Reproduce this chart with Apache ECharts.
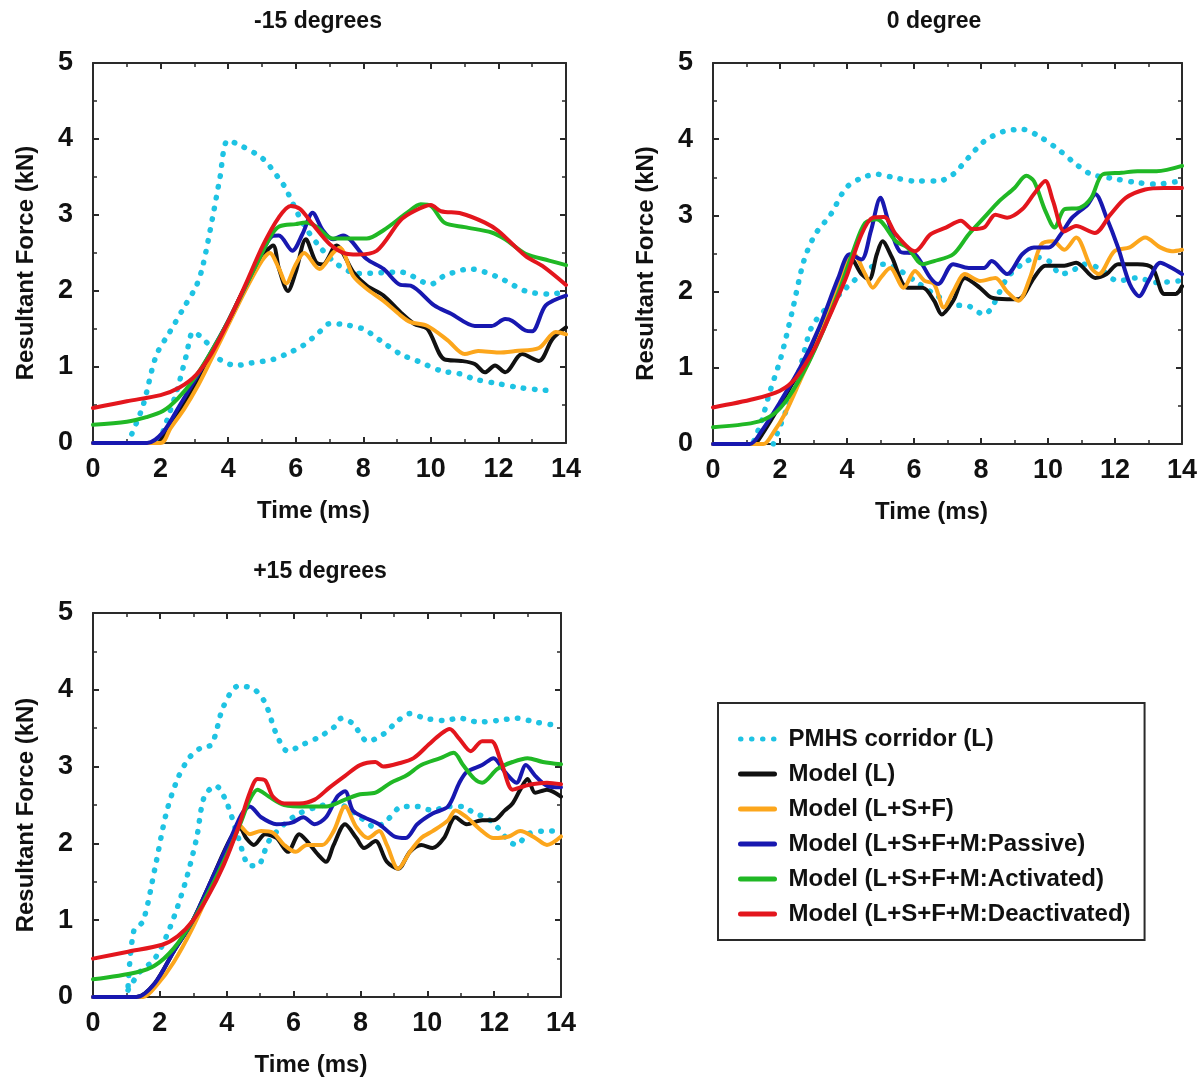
<!DOCTYPE html>
<html><head><meta charset="utf-8">
<script src="https://cdn.jsdelivr.net/npm/echarts@6/dist/echarts.min.js"></script>
<style>html,body{margin:0;padding:0;background:#fff}#c{width:1202px;height:1083px}</style>
</head><body><div id="c"></div>
<script>
// ---------- data (time in ms, force in kN) ----------
const panelTitles = ['-15 degrees', '0 degree', '+15 degrees'];
const seriesNames = ['PMHS corridor (L)', 'Model (L)', 'Model (L+S+F)', 'Model (L+S+F+M:Passive)', 'Model (L+S+F+M:Activated)', 'Model (L+S+F+M:Deactivated)'];
const xTicks = [0, 2, 4, 6, 8, 10, 12, 14];
const yTicks = [0, 1, 2, 3, 4, 5];

// -15 degrees
const m15_upper = [[1.15,0.12],[1.48,0.49],[1.87,1.15],[2.27,1.46],[2.66,1.76],[3.06,2.07],[3.25,2.33],[3.55,2.99],[3.75,3.47],[3.99,3.98],[4.39,3.91],[5.03,3.74],[5.52,3.47],[5.69,3.36],[6.2,2.9],[6.66,2.61],[7.2,2.36],[7.85,2.23],[9.1,2.25],[10.0,2.09],[10.4,2.2],[11.16,2.29],[12.0,2.18],[12.8,2.0],[13.5,1.96],[13.9,1.98]];
const m15_lower = [[1.97,0.02],[2.47,0.67],[2.76,1.15],[2.96,1.46],[3.16,1.41],[3.45,1.28],[3.75,1.1],[4.24,1.02],[4.64,1.05],[5.33,1.1],[5.72,1.17],[6.21,1.28],[6.7,1.46],[7.0,1.57],[7.4,1.56],[8.0,1.5],[8.5,1.35],[9.1,1.17],[9.6,1.08],[10.3,0.95],[10.86,0.91],[11.3,0.84],[12.0,0.78],[12.6,0.73],[13.2,0.7],[13.6,0.69]];
const m15_black = [[0,0],[1.9,0],[2.1,0.1],[2.56,0.42],[3.06,0.8],[3.5,1.17],[4,1.6],[4.5,2.05],[5.0,2.45],[5.33,2.6],[5.5,2.3],[5.77,2.0],[6.0,2.25],[6.3,2.68],[6.6,2.38],[6.8,2.35],[7.2,2.6],[7.7,2.25],[8.1,2.07],[8.6,1.94],[9.1,1.72],[9.5,1.57],[9.9,1.5],[10.4,1.1],[10.9,1.08],[11.3,1.04],[11.6,0.93],[11.9,1.02],[12.2,0.93],[12.7,1.17],[13.2,1.08],[13.6,1.37],[14,1.52]];
const m15_orange = [[0,0],[2.0,0],[2.3,0.2],[2.7,0.45],[3.1,0.75],[3.5,1.1],[4,1.55],[4.5,2.0],[5.0,2.4],[5.23,2.5],[5.5,2.3],[5.72,2.1],[6.0,2.35],[6.25,2.5],[6.7,2.29],[7.1,2.5],[7.3,2.57],[7.7,2.2],[8.1,2.03],[8.6,1.87],[9.1,1.68],[9.4,1.59],[9.9,1.54],[10.5,1.35],[11.0,1.17],[11.4,1.21],[12,1.19],[12.5,1.21],[13.2,1.25],[13.7,1.46],[14,1.43]];
const m15_blue = [[0,0],[1.6,0],[2.07,0.14],[2.56,0.49],[3.06,0.86],[3.5,1.2],[4.0,1.6],[4.5,2.05],[5.0,2.5],[5.3,2.72],[5.5,2.73],[5.9,2.53],[6.2,2.75],[6.5,3.03],[6.8,2.8],[7.1,2.68],[7.4,2.73],[8.1,2.42],[8.6,2.29],[9.1,2.08],[9.4,2.07],[10.1,1.81],[10.6,1.7],[11.3,1.54],[11.8,1.54],[12.2,1.63],[12.4,1.61],[12.8,1.48],[13.0,1.47],[13.4,1.81],[14,1.94]];
const m15_green = [[0,0.24],[1,0.28],[1.58,0.34],[2.07,0.42],[2.5,0.58],[3.0,0.85],[3.5,1.2],[4,1.6],[4.5,2.05],[5.0,2.5],[5.3,2.75],[5.52,2.85],[6.0,2.88],[6.3,2.9],[6.6,2.85],[7.1,2.69],[8.1,2.69],[8.6,2.8],[9.3,3.03],[9.7,3.14],[10.0,3.12],[10.4,2.9],[11,2.84],[11.8,2.77],[12.2,2.68],[12.8,2.49],[13.5,2.4],[14,2.34]];
const m15_red = [[0,0.46],[1,0.55],[2,0.63],[2.56,0.73],[3.06,0.9],[3.5,1.17],[4.04,1.63],[4.5,2.07],[5.03,2.6],[5.5,2.97],[5.85,3.12],[6.13,3.08],[6.5,2.88],[7.0,2.62],[7.5,2.49],[7.8,2.48],[8.4,2.53],[9.1,2.93],[9.5,3.05],[10.0,3.13],[10.3,3.05],[10.9,3.02],[11.6,2.9],[12.0,2.79],[12.8,2.46],[13.3,2.33],[14,2.08]];

// 0 degree
const z0_upper = [[1.22,0.04],[1.45,0.3],[1.68,0.66],[2.03,1.14],[2.37,1.75],[2.71,2.4],[3.05,2.75],[3.51,3.01],[3.97,3.36],[4.43,3.49],[4.89,3.54],[5.46,3.49],[6.03,3.45],[6.72,3.45],[7.17,3.54],[7.63,3.76],[8.09,3.97],[8.66,4.1],[9.23,4.13],[9.8,4.02],[10.38,3.84],[10.84,3.67],[11.29,3.54],[11.86,3.49],[12.67,3.43],[13.24,3.41],[13.92,3.45]];
const z0_lower = [[1.8,0.0],[1.91,0.13],[2.25,0.52],[2.6,1.0],[2.94,1.53],[3.4,1.79],[3.86,2.0],[4.2,2.14],[4.66,2.31],[5.11,2.36],[5.46,2.31],[6.03,2.14],[6.6,1.97],[7.17,1.83],[7.63,1.81],[8.09,1.7],[8.32,1.79],[8.78,2.18],[9.23,2.36],[9.69,2.45],[10.03,2.4],[10.38,2.23],[10.72,2.27],[11.06,2.36],[11.52,2.31],[12.09,2.14],[12.67,2.18],[13.24,2.12],[13.92,2.14]];
const z0_black = [[0,0],[1.2,0],[1.5,0.15],[2.05,0.55],[2.6,0.98],[3.2,1.5],[3.75,2.15],[4.1,2.45],[4.43,2.23],[4.66,2.16],[4.89,2.49],[5.06,2.66],[5.34,2.45],[5.8,2.05],[6.26,2.05],[6.6,1.88],[6.83,1.7],[7.17,1.88],[7.52,2.18],[7.97,2.05],[8.32,1.92],[8.78,1.9],[9.12,1.9],[9.58,2.18],[9.92,2.34],[10.49,2.34],[10.84,2.38],[11.41,2.18],[11.75,2.23],[12.09,2.36],[12.67,2.36],[13.12,2.31],[13.47,1.97],[13.81,1.97],[14,2.07]];
const z0_orange = [[0,0],[1.5,0],[1.8,0.15],[2.14,0.39],[2.6,0.83],[3.05,1.27],[3.51,1.79],[3.97,2.36],[4.2,2.49],[4.54,2.23],[4.77,2.05],[5.0,2.18],[5.29,2.31],[5.69,2.05],[6.03,2.27],[6.32,2.14],[6.6,2.1],[6.89,1.79],[7.17,2.0],[7.52,2.23],[7.97,2.14],[8.43,2.18],[8.78,2.0],[9.12,1.88],[9.46,2.18],[9.8,2.62],[10.15,2.66],[10.49,2.55],[10.84,2.71],[11.29,2.31],[11.52,2.23],[11.98,2.53],[12.44,2.58],[12.9,2.71],[13.35,2.58],[13.7,2.53],[14,2.55]];
const z0_blue = [[0,0],[1.1,0],[1.45,0.17],[2.03,0.57],[2.6,1.0],[3.17,1.53],[3.74,2.18],[4.08,2.49],[4.43,2.42],[4.71,2.79],[5.0,3.23],[5.23,2.93],[5.57,2.53],[6.03,2.49],[6.49,2.18],[6.72,2.1],[7.17,2.36],[7.63,2.31],[8.09,2.31],[8.32,2.4],[8.78,2.23],[9.23,2.49],[9.58,2.58],[10.03,2.58],[10.38,2.75],[10.72,2.97],[11.18,3.14],[11.41,3.28],[11.75,2.97],[12.09,2.58],[12.44,2.1],[12.72,1.94],[13.0,2.14],[13.35,2.38],[13.7,2.31],[14,2.23]];
const z0_green = [[0,0.22],[1.22,0.28],[1.8,0.39],[2.25,0.61],[2.83,1.05],[3.3,1.5],[3.8,2.05],[4.2,2.55],[4.54,2.9],[4.89,2.95],[5.46,2.66],[5.8,2.58],[6.26,2.36],[6.6,2.4],[7.17,2.49],[7.63,2.75],[8.09,2.97],[8.55,3.19],[9.0,3.36],[9.35,3.52],[9.58,3.45],[9.92,3.06],[10.2,2.84],[10.49,3.08],[10.95,3.1],[11.29,3.23],[11.64,3.54],[12.2,3.56],[12.67,3.58],[13.24,3.58],[14,3.65]];
const z0_red = [[0,0.48],[1.22,0.59],[2.0,0.7],[2.48,0.87],[3.05,1.27],[3.5,1.7],[3.97,2.18],[4.43,2.75],[4.77,2.97],[5.11,2.98],[5.46,2.75],[6.03,2.53],[6.49,2.75],[6.95,2.84],[7.4,2.93],[7.75,2.82],[8.09,2.84],[8.43,3.01],[8.78,2.97],[9.23,3.08],[9.58,3.28],[9.92,3.45],[10.15,3.19],[10.49,2.79],[10.84,2.86],[11.4,2.77],[11.86,3.01],[12.32,3.23],[12.9,3.34],[13.47,3.36],[14,3.36]];

// +15 degrees
const p15_upper = [[1.05,0.14],[1.22,0.86],[1.5,0.99],[1.85,1.67],[2.19,2.39],[2.53,2.84],[2.87,3.11],[3.21,3.24],[3.55,3.29],[3.9,3.78],[4.35,4.05],[4.81,4.01],[5.15,3.83],[5.49,3.42],[5.83,3.2],[6.29,3.29],[6.74,3.38],[7.2,3.51],[7.43,3.63],[7.77,3.56],[8.22,3.33],[8.68,3.42],[9.13,3.6],[9.48,3.69],[9.93,3.63],[10.5,3.6],[10.96,3.63],[11.53,3.58],[12.1,3.6],[12.67,3.63],[13.23,3.58],[13.8,3.54]];
const p15_lower = [[1.05,0.09],[1.39,0.32],[1.85,0.5],[2.3,0.9],[2.76,1.49],[3.1,2.07],[3.33,2.61],[3.67,2.75],[4.01,2.52],[4.35,2.07],[4.69,1.71],[4.92,1.71],[5.26,2.03],[5.72,2.25],[6.17,2.39],[6.74,2.48],[7.2,2.52],[7.54,2.48],[7.99,2.34],[8.45,2.21],[8.79,2.3],[9.25,2.48],[9.7,2.48],[10.16,2.43],[10.62,2.48],[11.07,2.48],[11.41,2.39],[11.75,2.34],[12.1,2.21],[12.44,2.03],[12.67,1.98],[13.0,2.12],[13.46,2.16],[13.8,2.16]];
const p15_black = [[0,0],[1.3,0],[1.85,0.18],[2.41,0.59],[2.98,0.99],[3.55,1.53],[4.12,2.07],[4.4,2.2],[4.58,2.07],[4.81,1.98],[5.15,2.12],[5.49,2.07],[5.83,1.89],[6.17,2.12],[6.4,2.03],[6.74,1.85],[6.97,1.76],[7.2,1.98],[7.54,2.25],[7.88,2.07],[8.11,1.94],[8.45,2.03],[8.79,1.76],[9.13,1.67],[9.48,1.89],[9.82,1.98],[10.16,1.94],[10.5,2.07],[10.84,2.34],[11.18,2.25],[11.64,2.3],[11.98,2.3],[12.32,2.43],[12.55,2.52],[12.78,2.7],[13.0,2.84],[13.23,2.66],[13.58,2.7],[14,2.61]];
const p15_orange = [[0,0],[1.5,0],[1.9,0.15],[2.41,0.45],[2.98,0.9],[3.55,1.44],[4.12,1.98],[4.35,2.25],[4.69,2.12],[5.03,2.16],[5.38,2.14],[5.72,1.98],[6.06,1.89],[6.4,1.98],[6.86,1.98],[7.2,2.16],[7.54,2.48],[7.88,2.21],[8.22,2.07],[8.56,2.16],[8.79,1.98],[9.13,1.67],[9.48,1.89],[9.82,2.07],[10.16,2.16],[10.62,2.3],[10.84,2.43],[11.18,2.34],[11.64,2.16],[11.98,2.07],[12.44,2.09],[12.78,2.16],[13.23,2.07],[13.58,1.98],[14,2.09]];
const p15_blue = [[0,0],[1.3,0],[1.85,0.18],[2.41,0.59],[2.98,0.99],[3.55,1.53],[4.12,2.07],[4.46,2.39],[4.69,2.48],[5.03,2.34],[5.49,2.25],[5.95,2.27],[6.29,2.34],[6.63,2.25],[6.97,2.34],[7.31,2.61],[7.54,2.68],[7.77,2.43],[8.11,2.34],[8.56,2.25],[9.02,2.09],[9.36,2.07],[9.7,2.25],[10.16,2.39],[10.62,2.48],[10.96,2.79],[11.18,2.93],[11.64,3.02],[11.98,3.11],[12.32,2.93],[12.67,2.79],[12.95,3.02],[13.23,2.88],[13.58,2.75],[14,2.73]];
const p15_green = [[0,0.23],[1.28,0.32],[1.85,0.41],[2.41,0.63],[2.98,0.99],[3.5,1.4],[4.0,1.85],[4.4,2.25],[4.69,2.57],[4.92,2.7],[5.26,2.61],[5.72,2.5],[6.4,2.48],[6.97,2.48],[7.54,2.57],[7.99,2.64],[8.45,2.66],[8.91,2.79],[9.36,2.88],[9.82,3.02],[10.39,3.11],[10.79,3.18],[11.07,3.02],[11.41,2.84],[11.64,2.79],[12.1,2.97],[12.55,3.06],[13.0,3.11],[13.46,3.06],[14,3.03]];
const p15_red = [[0,0.5],[1.05,0.59],[2.07,0.68],[2.53,0.79],[2.98,0.99],[3.44,1.31],[3.9,1.71],[4.35,2.21],[4.69,2.66],[4.92,2.84],[5.15,2.82],[5.38,2.61],[5.72,2.52],[6.17,2.52],[6.63,2.57],[7.08,2.73],[7.54,2.88],[7.99,3.02],[8.45,3.06],[8.68,3.0],[9.13,3.04],[9.59,3.11],[10.05,3.29],[10.39,3.42],[10.67,3.49],[10.96,3.36],[11.3,3.2],[11.64,3.33],[11.92,3.33],[12.21,3.06],[12.55,2.7],[12.78,2.73],[13.12,2.77],[13.58,2.79],[14,2.77]];

// ---------- styling ----------
const COLORS = ['#1ec3e3', '#111111', '#fca61c', '#1818b0', '#20b825', '#e3161d'];
const TXT = '#111';
const FONT = "'Liberation Sans',Arial,sans-serif";

const panels = [
  { title: panelTitles[0], titleX: 318, titleY: 10, grid: { left: 93, top: 63, width: 473, height: 380 },
    data: [m15_upper, m15_lower, m15_black, m15_orange, m15_blue, m15_green, m15_red] },
  { title: panelTitles[1], titleX: 934, titleY: 10, grid: { left: 713, top: 63, width: 469, height: 381 },
    data: [z0_upper, z0_lower, z0_black, z0_orange, z0_blue, z0_green, z0_red] },
  { title: panelTitles[2], titleX: 320, titleY: 560, grid: { left: 93, top: 613, width: 468, height: 384 },
    data: [p15_upper, p15_lower, p15_black, p15_orange, p15_blue, p15_green, p15_red] }
];

const axisLine = { show: true, onZero: false, lineStyle: { color: '#2a2a2a', width: 2 } };
const axisTick = { show: true, inside: true, length: 6, lineStyle: { color: '#2a2a2a', width: 2 } };
const minorTick = { show: true, splitNumber: 2, length: 4, lineStyle: { color: '#2a2a2a', width: 1.5 } };
const tickLabelStyle = { fontFamily: FONT, fontWeight: 'bold', fontSize: 27, color: TXT };

const option = { animation: false, backgroundColor: '#fff', title: [], grid: [], xAxis: [], yAxis: [], series: [] };

panels.forEach((p, i) => {
  option.title.push({ text: p.title, left: p.titleX, top: p.titleY, textAlign: 'center', padding: 0,
    textStyle: { fontFamily: FONT, fontWeight: 'bold', fontSize: 23, color: TXT } });
  option.grid.push(Object.assign({ containLabel: false }, p.grid));
  const xBase = { type: 'value', gridIndex: i, min: xTicks[0], max: xTicks[xTicks.length - 1], interval: 2,
    axisLine, axisTick, minorTick, splitLine: { show: false }, minorSplitLine: { show: false } };
  const yBase = { type: 'value', gridIndex: i, min: yTicks[0], max: yTicks[yTicks.length - 1], interval: 1,
    axisLine, axisTick, minorTick, splitLine: { show: false }, minorSplitLine: { show: false } };
  option.xAxis.push(Object.assign({}, xBase, { position: 'bottom',
    name: 'Time (ms)', nameLocation: 'middle', nameGap: 56,
    nameTextStyle: { fontFamily: FONT, fontWeight: 'bold', fontSize: 24, color: TXT, padding: [0, 32, 0, 0] },
    axisLabel: Object.assign({ margin: 13 }, tickLabelStyle) }));
  option.xAxis.push(Object.assign({}, xBase, { position: 'top', axisLabel: { show: false } }));
  option.yAxis.push(Object.assign({}, yBase, { position: 'left',
    name: 'Resultant Force (kN)', nameLocation: 'middle', nameGap: 55,
    nameTextStyle: { fontFamily: FONT, fontWeight: 'bold', fontSize: 24, color: TXT, padding: [0, 20, 0, 0] },
    axisLabel: Object.assign({ margin: 20 }, tickLabelStyle) }));
  option.yAxis.push(Object.assign({}, yBase, { position: 'right', axisLabel: { show: false } }));

  p.data.forEach((d, k) => {
    const si = k < 2 ? 0 : k - 1;
    const dotted = si === 0;
    option.series.push({
      type: 'line', name: seriesNames[si], xAxisIndex: 2 * i, yAxisIndex: 2 * i,
      data: d, symbol: 'none', smooth: 0.3, z: 2 + si,
      color: COLORS[si],
      lineStyle: dotted
        ? { color: COLORS[si], width: 5.5, type: [0.5, 10.5], cap: 'round' }
        : { color: COLORS[si], width: 4, join: 'round', cap: 'round' }
    });
  });
});

option.legend = {
  data: seriesNames, orient: 'vertical', left: 718, top: 703,
  padding: [24, 14, 14, 20], itemGap: 11, itemWidth: 34, itemHeight: 14,
  borderColor: '#2a2a2a', borderWidth: 2, backgroundColor: '#fff',
  selectedMode: false,
  itemStyle: { opacity: 0 },
  lineStyle: { width: 5 },
  textStyle: { fontFamily: FONT, fontWeight: 'bold', fontSize: 24, color: TXT, lineHeight: 24, padding: [0, 0, 0, 9] }
};

const chart = echarts.init(document.getElementById('c'), null, { renderer: 'canvas' });
chart.setOption(option);
</script>
</body></html>
